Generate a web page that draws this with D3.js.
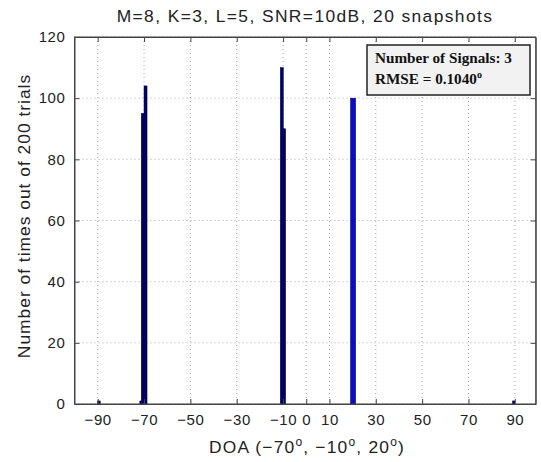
<!DOCTYPE html>
<html>
<head>
<meta charset="utf-8">
<script src="https://cdn.jsdelivr.net/npm/d3@7.9.0/dist/d3.min.js"></script>
<style>
  body { margin: 0; background: #fff; }
  .sans { font-family: "Liberation Sans", Arial, sans-serif; fill: #222; }
  .serif { font-family: "Liberation Serif", "Times New Roman", serif; fill: #111; font-weight: bold; }
</style>
</head>
<body>
<svg width="541" height="462"></svg>
<script>
// histogram bins (DOA estimate, degrees) and counts over 200 trials
const binLeft  = [-90, -71.8, -71.2, -70, -11.2, -10, 19.1, 89];
const binRight = [-88.9, -71.2, -70, -68.7, -9.9, -8.9, 21.3, 90];
const counts   = [1, 1, 95, 104, 110, 90, 100, 1];
const barColor = ["#00006e", "#00006e", "#00006e", "#00006e", "#00006e", "#00006e", "#0a0ad0", "#00006e"];

const xTicks = [-90, -70, -50, -30, -10, 0, 10, 30, 50, 70, 90];
const yTicks = [0, 20, 40, 60, 80, 100, 120];

const title = "M=8, K=3, L=5, SNR=10dB, 20 snapshots";
const yLabel = "Number of times out of 200 trials";
const legendLines = ["Number of Signals: 3", "RMSE = 0.1040"];

const svg = d3.select("svg");
const plot = {left: 74.5, right: 535.7, top: 37, bottom: 404};

const x = d3.scaleLinear().domain([-100, 99]).range([plot.left, plot.right]);
const y = d3.scaleLinear().domain([0, 120]).range([plot.bottom, plot.top]);

// grid
svg.append("g").selectAll("line").data(xTicks).join("line")
    .attr("x1", d => x(d)).attr("x2", d => x(d))
    .attr("y1", plot.top).attr("y2", plot.bottom)
    .attr("stroke", "#aaa").attr("stroke-width", 1)
    .attr("stroke-dasharray", "1,3");
svg.append("g").selectAll("line").data(yTicks).join("line")
    .attr("x1", plot.left).attr("x2", plot.right)
    .attr("y1", d => y(d)).attr("y2", d => y(d))
    .attr("stroke", "#aaa").attr("stroke-width", 1)
    .attr("stroke-dasharray", "1,3");

// bars
svg.append("g").selectAll("rect").data(counts).join("rect")
    .attr("x", (d, i) => x(binLeft[i]))
    .attr("width", (d, i) => x(binRight[i]) - x(binLeft[i]))
    .attr("y", d => y(d))
    .attr("height", d => y(0) - y(d))
    .attr("fill", (d, i) => barColor[i])
    .attr("stroke", "#000030").attr("stroke-width", 0.5);

// axes (ticks inward, box on all sides)
const fmt = d3.format("d");
const styleTicks = g => g.selectAll("text")
    .attr("class", "sans").attr("font-size", 15).attr("fill", null)
    .style("letter-spacing", "0.6px");
svg.append("g")
    .attr("transform", `translate(0,${plot.bottom})`)
    .call(d3.axisBottom(x).tickValues(xTicks).tickFormat(fmt).tickSizeInner(-5).tickSizeOuter(0).tickPadding(10))
    .call(styleTicks);
svg.append("g")
    .attr("transform", `translate(0,${plot.top})`)
    .call(d3.axisTop(x).tickValues(xTicks).tickFormat("").tickSizeInner(-5).tickSizeOuter(0));
svg.append("g")
    .attr("transform", `translate(${plot.left},0)`)
    .call(d3.axisLeft(y).tickValues(yTicks).tickFormat(fmt).tickSizeInner(-5).tickSizeOuter(0).tickPadding(9))
    .call(styleTicks);
svg.append("g")
    .attr("transform", `translate(${plot.right},0)`)
    .call(d3.axisRight(y).tickValues(yTicks).tickFormat("").tickSizeInner(-5).tickSizeOuter(0));
svg.selectAll(".domain, .tick line").attr("stroke", "#444");

svg.append("rect")
    .attr("x", plot.left).attr("y", plot.top)
    .attr("width", plot.right - plot.left).attr("height", plot.bottom - plot.top)
    .attr("fill", "none").attr("stroke", "#444").attr("stroke-width", 1);

// title
svg.append("text").attr("class", "sans")
    .attr("x", 305).attr("y", 22)
    .attr("text-anchor", "middle").attr("font-size", 17.4)
    .style("letter-spacing", "1.4px")
    .text(title);

// y label
svg.append("text").attr("class", "sans")
    .attr("transform", `translate(30,216) rotate(-90)`)
    .attr("text-anchor", "middle").attr("font-size", 17.4)
    .style("letter-spacing", "1px")
    .text(yLabel);

// x label with degree superscripts
const xl = svg.append("text").attr("class", "sans")
    .attr("x", 307).attr("y", 453)
    .attr("text-anchor", "middle").attr("font-size", 17.4)
    .style("letter-spacing", "1.2px");
[["DOA (\u221270", 0], ["o", 1], [", \u221210", -1], ["o", 1], [", 20", -1], ["o", 1], [")", -1]]
    .forEach(([t, s]) => {
        xl.append("tspan")
            .attr("font-size", s === 1 ? 12 : 17.4)
            .attr("dy", s * -7)
            .text(t);
    });

// legend box
const lg = svg.append("g");
lg.append("rect")
    .attr("x", 367).attr("y", 45).attr("width", 163).attr("height", 50)
    .attr("fill", "#f2f2f2").attr("stroke", "#222").attr("stroke-width", 1.5);
lg.append("text").attr("class", "serif")
    .attr("x", 375).attr("y", 63)
    .attr("font-size", 15.2)
    .text(legendLines[0]);
const rm = lg.append("text").attr("class", "serif")
    .attr("x", 375).attr("y", 84)
    .attr("font-size", 15.2);
rm.append("tspan").text(legendLines[1]);
rm.append("tspan").attr("font-size", 10).attr("dy", -6).text("o");
</script>
</body>
</html>
